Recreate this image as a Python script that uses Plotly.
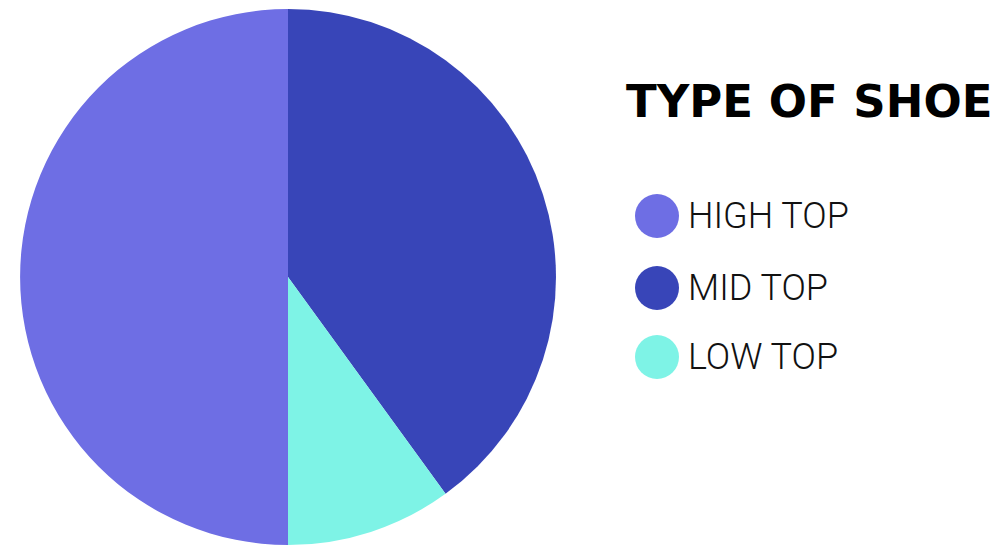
import plotly.graph_objects as go

# Data
labels = ["MID TOP", "LOW TOP", "HIGH TOP"]
values = [40, 10, 50]
colors = ["#3845B8", "#7EF3E6", "#6E6EE4"]
legend_labels = ["HIGH TOP", "MID TOP", "LOW TOP"]
legend_colors = ["#6E6EE4", "#3845B8", "#7EF3E6"]
title_text = "TYPE OF SHOE"

# page body has an 8px margin; the figure is sized to fill the rest
OFF = 8
W, H = 1004 - OFF, 548 - OFF


def px(x):
    return (x - OFF) / W


def py(y):
    return 1 - (y - OFF) / H


fig = go.Figure(go.Pie(
    labels=labels,
    values=values,
    marker=dict(colors=colors, line=dict(width=0)),
    sort=False,
    direction="clockwise",
    rotation=0,
    textinfo="none",
    hoverinfo="label+percent",
    showlegend=False,
    domain=dict(x=[px(20), px(556)], y=[py(545), py(9)]),
))

shapes = []
annotations = [dict(
    text="<b>" + title_text + "</b>", x=px(624), y=py(102),
    xref="paper", yref="paper", xanchor="left", yanchor="middle",
    showarrow=False, font=dict(family="DejaVu Sans", size=45, color="#000000"),
)]
ys = [216, 288, 357]
r = 22
for lab, col, yy in zip(legend_labels, legend_colors, ys):
    shapes.append(dict(
        type="circle", xref="paper", yref="paper",
        x0=px(657 - r), x1=px(657 + r),
        y0=py(yy + r), y1=py(yy - r),
        fillcolor=col, line=dict(width=0),
    ))
    annotations.append(dict(
        text=lab, x=px(686), y=py(yy), xref="paper", yref="paper",
        xanchor="left", yanchor="middle", showarrow=False,
        font=dict(family="Roboto", size=36, color="#111111", weight=300),
    ))

fig.update_layout(
    width=W, height=H,
    margin=dict(l=0, r=0, t=0, b=0),
    paper_bgcolor="white", plot_bgcolor="white",
    shapes=shapes, annotations=annotations,
)

fig.write_html("out.html")
